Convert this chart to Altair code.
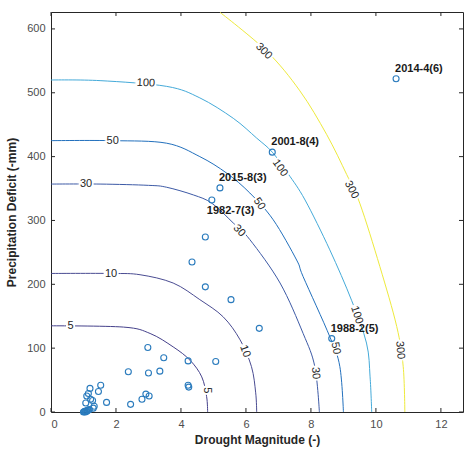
import altair as alt
import pandas as pd

# ---- data ----
levels = ["5", "10", "30", "50", "100", "300"]
level_colors = ["#45418b", "#4a4c92", "#3d5aa6", "#2270bd", "#44aad9", "#eeea3c"]

c5_x = [0, 2.23, 3.05, 3.76, 4.28, 4.64, 4.79, 4.82]
c5_y = [135, 133, 123, 102, 81, 55, 24, 0]
c10_x = [0, 1.85, 2.74, 3.76, 4.58, 5.30, 5.82, 6.17, 6.30, 6.33]
c10_y = [217, 217, 215, 202, 176, 149, 113, 71, 30, 0]
c30_x = [0, 1.51, 3.00, 3.56, 4.38, 4.95, 5.61, 6.12, 7.05, 7.76, 8.12, 8.26]
c30_y = [357, 357, 355, 352, 340, 327, 296, 270, 202, 123, 71, 0]
c50_x = [0, 1.90, 3.56, 4.58, 5.41, 6.12, 6.84, 7.56, 7.76, 8.58, 8.89, 9.00]
c50_y = [425, 425, 421, 400, 374, 343, 301, 238, 212, 118, 71, 0]
c100_x = [0, 1.51, 3.56, 4.58, 5.61, 6.33, 6.81, 7.30, 7.82, 8.58, 9.25, 9.71, 9.82, 9.87]
c100_y = [520, 519, 510, 492, 460, 429, 407, 373, 332, 254, 175, 108, 55, 0]
c300_x = [5.20, 6.64, 7.66, 8.48, 9.10, 9.51, 10.12, 10.64, 10.84, 10.89]
c300_y = [626, 565, 503, 435, 372, 326, 228, 134, 71, 0]

# contour labels: text, x, y, rotation (deg)
clab_text = ["5", "5", "10", "10", "30", "30", "30", "50", "50", "50",
             "100", "100", "100", "300", "300", "300"]
clab_x = [0.60, 4.79, 1.85, 5.97, 1.08, 5.79, 8.14, 1.90, 6.41, 8.76,
          2.92, 7.05, 9.41, 6.55, 9.25, 10.74]
clab_y = [134, 34, 216, 95, 357, 284, 61, 425, 326, 100,
          515, 382, 152, 565, 348, 97]
clab_angle = [0, 90, 0, 70, 0, 48, 86, 0, 56, 80,
              3, 55, 72, 45, 62, 86]

# drought events
pt_x = [1.00, 1.02, 1.04, 1.06, 1.08, 1.10, 1.12, 1.15, 1.18, 1.30, 1.07, 1.33,
        1.28, 1.22, 1.10, 1.15, 1.20, 1.46, 1.53, 1.71, 2.45, 2.80, 2.92, 3.02,
        2.38, 3.00, 3.35, 2.98, 3.47, 4.22, 5.07, 4.22, 4.24, 4.34, 4.75, 4.75,
        5.54, 6.41, 8.64, 4.95, 5.20, 6.81, 10.62]
pt_y = [0, 0.5, 1, 0, 1.5, 1, 2.5, 3, 4, 6, 14, 9,
        18, 20, 25, 29, 37, 32, 42, 15, 12, 20, 28, 25,
        63, 61, 64, 101, 85, 80, 79, 42, 39, 235, 274, 196,
        176, 131, 115, 332, 351, 407, 522]

lab_above_name = ["2014-4(6)", "2001-8(4)", "2015-8(3)", "1988-2(5)"]
lab_above_x = [10.62, 6.81, 5.20, 8.64]
lab_above_y = [522, 407, 351, 115]
lab_below_name = ["1982-7(3)"]
lab_below_x = [4.95]
lab_below_y = [332]

x_ticks = [0, 2, 4, 6, 8, 10, 12]
y_ticks = [0, 100, 200, 300, 400, 500, 600]

XMAX, YMAX = 12.68, 626.5
W, H = 412, 400
FONT = "Liberation Sans"

# ---- tables ----
rows = []
for lev, xs, ys in [("5", c5_x, c5_y), ("10", c10_x, c10_y), ("30", c30_x, c30_y),
                    ("50", c50_x, c50_y), ("100", c100_x, c100_y), ("300", c300_x, c300_y)]:
    for i, (a, b) in enumerate(zip(xs, ys)):
        rows.append({"level": lev, "x": a, "y": b, "i": i})
contours = pd.DataFrame(rows)
clabels = pd.DataFrame({"level": clab_text, "x": clab_x, "y": clab_y, "angle": clab_angle})
points = pd.DataFrame({"x": pt_x, "y": pt_y})
lab_above = pd.DataFrame({"name": lab_above_name, "x": lab_above_x, "y": lab_above_y})
lab_below = pd.DataFrame({"name": lab_below_name, "x": lab_below_x, "y": lab_below_y})
xt = pd.DataFrame({"v": x_ticks})
yt = pd.DataFrame({"v": y_ticks})

xs = alt.Scale(domain=[0, XMAX], nice=False, zero=False)
ys = alt.Scale(domain=[0, YMAX], nice=False, zero=False)
xenc = alt.X("x:Q", scale=xs, axis=alt.Axis(values=x_ticks, title="Drought Magnitude (-)"))
yenc = alt.Y("y:Q", scale=ys, axis=alt.Axis(values=y_ticks, title="Precipitation Deficit (-mm)"))
color = alt.Color("level:N", scale=alt.Scale(domain=levels, range=level_colors), legend=None)

lines = alt.Chart(contours).mark_line(strokeWidth=1, interpolate="cardinal", clip=True).encode(
    x=xenc, y=yenc, color=color, order="i:Q", detail="level:N")

box_paths = ["M-0.9,-1L0.9,-1L0.9,1L-0.9,1Z", "M-1.5,-1L1.5,-1L1.5,1L-1.5,1Z",
             "M-1.5,-1L1.5,-1L1.5,1L-1.5,1Z", "M-1.5,-1L1.5,-1L1.5,1L-1.5,1Z",
             "M-2.1,-1L2.1,-1L2.1,1L-2.1,1Z", "M-2.1,-1L2.1,-1L2.1,1L-2.1,1Z"]
boxes = alt.Chart(clabels).mark_point(filled=True, color="white", opacity=1, strokeWidth=0, size=100).encode(
    x=alt.X("x:Q", scale=xs), y=alt.Y("y:Q", scale=ys),
    shape=alt.Shape("level:N", scale=alt.Scale(domain=levels, range=box_paths), legend=None),
    angle=alt.Angle("angle:Q", scale=None))

ctext = alt.Chart(clabels).mark_text(font=FONT, fontSize=11, color="#262626", align="center",
                                     baseline="middle").encode(
    x=alt.X("x:Q", scale=xs), y=alt.Y("y:Q", scale=ys), text="level:N",
    angle=alt.Angle("angle:Q", scale=None))

pts = alt.Chart(points).mark_point(shape="circle", filled=False, size=36, strokeWidth=1.1,
                                   color="#2a7bbd", opacity=1).encode(
    x=alt.X("x:Q", scale=xs), y=alt.Y("y:Q", scale=ys))

ltext_a = alt.Chart(lab_above).mark_text(font=FONT, fontSize=11, fontWeight="bold", color="#1a1a1a",
                                         align="left", baseline="middle", dx=-1, dy=-10).encode(
    x=alt.X("x:Q", scale=xs), y=alt.Y("y:Q", scale=ys), text="name:N")
ltext_b = alt.Chart(lab_below).mark_text(font=FONT, fontSize=11, fontWeight="bold", color="#1a1a1a",
                                         align="left", baseline="middle", dx=-5, dy=11).encode(
    x=alt.X("x:Q", scale=xs), y=alt.Y("y:Q", scale=ys), text="name:N")

TK = "#262626"
tb = alt.Chart(xt).mark_rule(color=TK, strokeWidth=1).encode(
    x=alt.X("v:Q", scale=xs), y=alt.value(H), y2=alt.value(H - 4))
tt = alt.Chart(xt).mark_rule(color=TK, strokeWidth=1).encode(
    x=alt.X("v:Q", scale=xs), y=alt.value(0), y2=alt.value(4))
tl = alt.Chart(yt).mark_rule(color=TK, strokeWidth=1).encode(
    y=alt.Y("v:Q", scale=ys), x=alt.value(0), x2=alt.value(4))
tr = alt.Chart(yt).mark_rule(color=TK, strokeWidth=1).encode(
    y=alt.Y("v:Q", scale=ys), x=alt.value(W), x2=alt.value(W - 4))

chart = alt.layer(lines, boxes, ctext, pts, ltext_a, ltext_b, tb, tt, tl, tr).properties(
    width=W, height=H,
    autosize=alt.AutoSizeParams(type="none"),
    padding={"left": 51, "top": 12, "right": 1, "bottom": 41},
    background="white",
).configure_view(stroke="#262626", strokeWidth=1).configure_axis(
    grid=False, ticks=False, domain=False,
    labelFont=FONT, labelFontSize=11, labelColor="#4d4d4d", labelPadding=6,
    titleFont=FONT, titleFontSize=12, titleFontWeight="bold", titleColor="#262626",
).configure_axisX(titlePadding=5).configure_axisY(titlePadding=8)

chart.save("out.html", embed_options={"renderer": "svg", "actions": False})
